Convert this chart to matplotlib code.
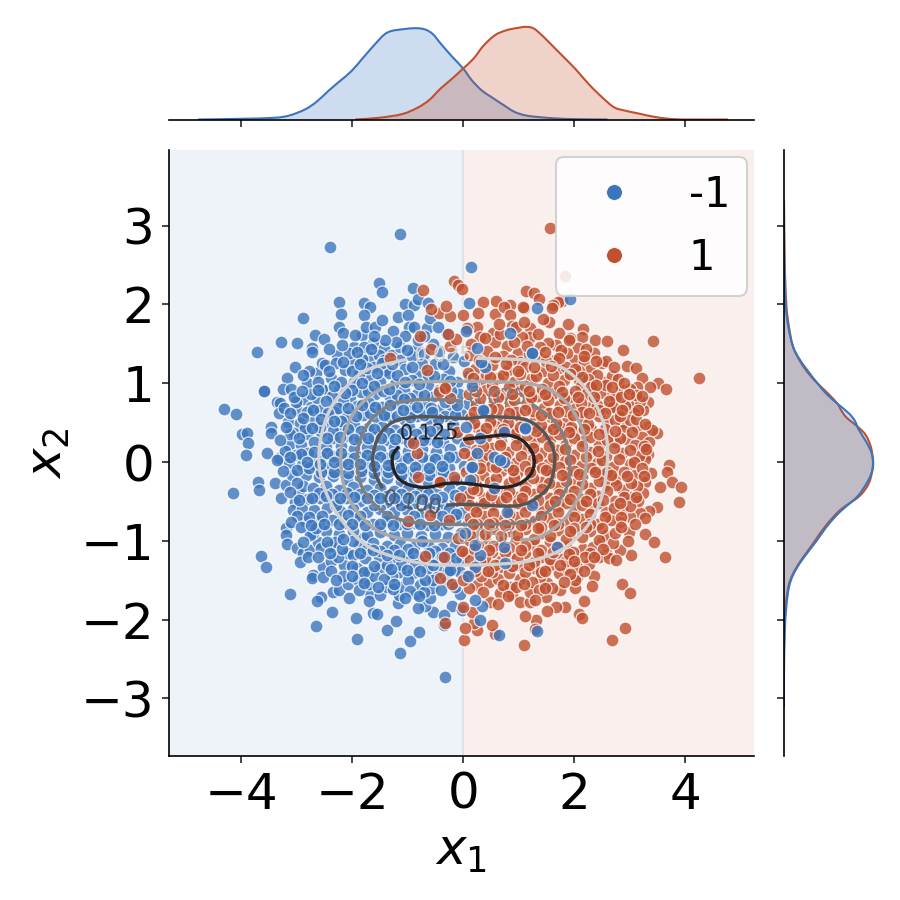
#!/usr/bin/env python
"""
Joint plot of two classes with marginal densities and density contours.
"""
import numpy as np
import matplotlib
matplotlib.use("Agg")
import matplotlib.pyplot as plt
from matplotlib.lines import Line2D
from matplotlib.path import Path
from matplotlib.patches import PathPatch

BLUE = "#3b75bd"
RED = "#c0502f"

blue_outer = [
    (-1.135, 2.898), (-2.408, 2.724), (-1.508, 2.272), (-1.459, 2.157), (-2.246, 2.030), (-.895, 2.212),
    (-2.198, 1.874), (-2.877, 1.832), (-1.790, 2.022), (-1.676, 1.971), (-1.790, 1.870), (-2.234, 1.717),
    (-2.168, 1.633), (-2.661, 1.616), (-2.511, 1.561), (-3.279, 1.519), (-2.985, 1.514), (-3.706, 1.400),
    (-2.715, 1.442), (-2.727, 1.400), (-3.021, 1.201), (-3.165, 1.070), (-3.580, .897), (-3.580, .897),
    (-4.306, .673), (-4.084, .605), (-3.976, .351), (-3.886, .364), (-3.249, .922), (-3.105, .931),
    (-2.817, .998), (-2.877, .795), (-3.357, .766), (-3.309, .745), (-3.321, .618), (-3.459, .448),
    (-3.459, .364), (-3.147, .512), (-2.985, .660), (-2.655, 1.125), (-2.775, 1.159), (-2.547, 1.261),
    (-2.276, 1.358), (-2.487, 1.231), (-1.958, 1.464), (-1.820, 1.612), (-1.754, 1.717), (-1.586, 1.717),
    (-1.952, 1.612), (-1.273, 1.667), (-1.183, 1.836), (-1.045, 2.005), (-.877, 1.988), (-.805, 2.073),
    (-.985, 1.865), (-.625, 2.014), (-.967, 1.717), (-.655, 1.696), (-1.616, 1.506), (-1.435, 1.442),
    (-1.285, 1.358), (-1.045, 1.599), (-1.676, 1.337), (-1.976, 1.273), (-2.294, 1.261), (-2.487, .914),
    (-2.745, .702), (-2.246, .914), (-2.036, .829), (-1.706, 1.062), (-1.405, 1.167), (-1.135, 1.464),
    (-.865, 1.421),
    (-3.868, .245), (-3.910, .089), (-3.526, .110), (-3.327, .047), (-3.135, .216), (-3.129, -.017),
    (-3.688, -.250), (-3.682, -.355), (-3.399, -.271), (-4.150, -.389), (-3.189, -.292), (-2.955, -.398),
    (-3.027, -.503), (-3.057, -.609), (-2.847, -.745), (-3.189, -.841), (-3.189, -.926), (-3.165, -1.041),
    (-2.997, -1.096), (-3.646, -1.197), (-3.556, -1.337), (-2.877, -1.159), (-2.757, -1.117), (-2.931, -1.273),
    (-2.517, -1.328), (-2.697, -1.434), (-2.727, -1.476), (-2.517, -1.459), (-3.123, -1.679), (-2.565, -1.709),
    (-2.637, -1.764), (-2.348, -1.654), (-2.240, -1.624), (-2.078, -1.552), (-2.048, -1.730), (-2.366, -1.899),
    (-2.643, -2.081), (-1.928, -1.980), (-1.616, -1.920), (-1.556, -1.924), (-1.910, -2.251), (-1.375, -2.132),
    (-1.219, -2.018), (-.955, -2.276), (-.787, -2.161), (-1.147, -2.428), (-.336, -2.724), (-.342, -2.069),
    (-.210, -1.823), (-.018, -1.878), (-.054, -1.675), (-.535, -1.899), (-.354, -1.942), (-.679, -1.823),
    (-.805, -1.857), (-.595, -1.730), (-.853, -1.675), (-1.183, -1.794), (-1.165, -1.688), (-1.676, -1.667),
    (-1.694, -1.760), (-1.495, -1.688), (-1.886, -1.497), (-1.694, -1.552), (-1.375, -1.582), (-1.135, -1.582),
    (-.775, -1.561), (-.565, -1.603), (-2.156, -1.307), (-2.378, -1.252), (-2.096, -1.159), (-2.607, -1.011),
    (-2.396, -1.066), (-2.697, -.905), (-1.808, -.969), (-1.916, -1.349), (-1.495, -1.349), (-1.135, -1.392),
    (-.895, -1.413),
]
blue_inner = [
    (-1.83, 1.31), (-1.52, 1.36), (-1.14, 1.29), (-.93, 1.34), (-.71, 1.37), (-.44, 1.41), (-.18, 1.33),
    (-2.12, 1.17), (-1.88, 1.12), (-1.61, 1.21), (-1.33, 1.13), (-1.05, 1.18), (-.79, 1.11), (-.51, 1.24), (-.25, 1.16), (.02, 1.28),
    (-2.38, 1.07), (-2.21, 1.02), (-1.97, 1.01), (-1.49, 1.02), (-1.22, .99), (-.93, 1.04), (-.64, .98), (-.37, 1.06), (-.12, 1.02), (.11, 1.09),
    (-2.55, .93), (-2.36, .84), (-1.84, .89), (-1.58, .87), (-1.31, .83), (-1.07, .91), (-.83, .87), (-.57, .82), (-.08, .86), (.08, .74),
    (-2.63, .81), (-2.17, .76), (-1.92, .71), (-1.69, .75), (-1.46, .70), (-1.19, .72), (-.95, .69), (-.69, .73), (-.46, .66), (-.21, .70),
    (-2.81, .63), (-2.58, .66), (-2.33, .63), (-2.09, .58), (-1.81, .60), (-1.56, .56), (-1.33, .59), (-1.06, .55), (-.84, .58), (-.58, .53), (-.33, .58), (-.03, .61),
    (-2.94, .49), (-2.69, .52), (-2.46, .50), (-2.22, .44), (-1.97, .47), (-1.72, .43), (-1.47, .45), (-1.22, .41), (-.98, .44), (-.72, .40), (-.47, .43), (-.19, .47),
    (-3.04, .37), (-2.81, .35), (-2.57, .38), (-2.34, .31), (-2.09, .33), (-1.85, .30), (-1.61, .32), (-1.35, .28), (-1.09, .30), (-.87, .27), (-.61, .29), (-.36, .25), (-.11, .31),
    (-2.93, .22), (-2.69, .25), (-2.47, .19), (-2.21, .20), (-1.97, .17), (-1.74, .19), (-1.49, .15), (-1.24, .18), (-.99, .14), (-.74, .16), (-.49, .13), (-.24, .17), (.03, .21),
    (-3.02, .09), (-2.80, .11), (-2.57, .06), (-2.34, .08), (-2.09, .05), (-1.85, .07), (-1.62, .02), (-1.37, .05), (-1.12, .01), (-.87, .04), (-.62, .02), (-.37, .03), (-.13, .06),
    (-2.91, -.04), (-2.68, -.02), (-2.45, -.07), (-2.21, -.05), (-1.97, -.08), (-1.74, -.06), (-1.49, -.10), (-1.24, -.07), (-1.01, -.12), (-.75, -.09), (-.50, -.11), (-.25, -.08), (.01, -.05),
    (-3.08, -.17), (-2.83, -.16), (-2.59, -.19), (-2.35, -.18), (-2.10, -.21), (-1.86, -.19), (-1.61, -.23), (-1.37, -.20), (-1.12, -.24), (-.89, -.22), (-.63, -.25), (-.38, -.21), (-.13, -.23),
    (-2.88, -.31), (-2.71, -.33), (-2.47, -.31), (-2.23, -.35), (-1.98, -.32), (-1.74, -.36), (-1.49, -.33), (-1.25, -.37), (-1.00, -.34), (-.76, -.38), (-.51, -.36), (-.26, -.33), (-.02, -.37),
    (-2.79, -.47), (-2.58, -.45), (-2.35, -.49), (-2.11, -.46), (-1.86, -.50), (-1.62, -.47), (-1.37, -.51), (-1.12, -.48), (-.88, -.52), (-.63, -.49), (-.39, -.53), (-.14, -.50), (.07, -.47),
    (-2.91, -.59), (-2.69, -.61), (-2.46, -.58), (-2.22, -.62), (-1.98, -.59), (-1.73, -.63), (-1.49, -.60), (-1.24, -.64), (-1.01, -.61), (-.75, -.65), (-.51, -.63), (-.26, -.60), (-.04, -.65),
    (-2.60, -.75), (-2.36, -.73), (-2.12, -.77), (-1.87, -.74), (-1.62, -.78), (-1.38, -.75), (-1.13, -.79), (-.89, -.77), (-.64, -.80), (-.39, -.78), (-.15, -.74), (.09, -.79),
    (-2.76, -.93), (-2.47, -.88), (-2.24, -.91), (-1.99, -.88), (-1.74, -.92), (-1.50, -.89), (-1.25, -.93), (-1.01, -.90), (-.76, -.94), (-.51, -.91), (-.27, -.95), (-.03, -.90),
    (-2.57, -1.09), (-2.31, -1.02), (-1.88, -1.05), (-1.62, -1.03), (-1.37, -1.07), (-1.13, -1.04), (-.88, -1.08), (-.63, -1.05), (-.39, -1.09), (-.14, -1.06),
    (-2.25, -1.21), (-1.99, -1.18), (-1.76, -1.22), (-1.52, -1.19), (-1.25, -1.23), (-1.00, -1.20), (-.76, -1.24), (-.51, -1.21), (-.27, -1.25), (-.02, -1.22),
    (-1.71, -1.39), (-1.61, -1.45), (-1.29, -1.44), (-.99, -1.50), (-.66, -1.36), (-.42, -1.39), (-.16, -1.36),
    (-1.27, -1.61), (-.96, -1.63), (-.70, -1.65), (-.47, -1.46),
]
blue_fill = [
    (-2.05, 1.38), (-1.78, 1.46), (-1.42, 1.30), (-1.21, 1.52), (-.82, 1.55), (-.55, 1.50), (-.30, 1.62), (-.60, 1.83), (-.75, 1.25),
    (-2.62, 1.02), (-2.01, 1.15), (-1.74, 1.19), (-1.46, 1.26), (-1.20, 1.10), (-.92, 1.20), (-.63, 1.11), (-.36, 1.25),
    (-2.75, .87), (-2.47, .77), (-2.26, .69), (-2.00, .92), (-1.72, .90), (-1.44, .90), (-1.19, .85), (-.95, .81), (-.70, .85), (-.44, .92), (-.22, .90),
    (-3.02, .76), (-2.70, .66), (-2.44, .62), (-2.20, .52), (-1.93, .58), (-1.68, .62), (-1.43, .60), (-1.19, .58), (-.96, .57), (-.71, .60), (-.45, .55), (-.15, .60),
    (-3.12, .36), (-2.85, .43), (-2.58, .44), (-2.34, .40), (-2.08, .42), (-1.84, .39), (-1.60, .42), (-1.34, .37), (-1.10, .37), (-.85, .35), (-.60, .39), (-.34, .36),
    (-3.21, .14), (-2.92, .10), (-2.69, .13), (-2.45, .12), (-2.20, .11), (-1.97, .05), (-1.73, .09), (-1.49, .06), (-1.25, .10), (-1.00, .05), (-.75, .07), (-.50, .04), (-.25, .07),
    (-3.24, -.11), (-3.00, -.10), (-2.78, -.08), (-2.56, -.12), (-2.32, -.12), (-2.08, -.14), (-1.84, -.11), (-1.60, -.14), (-1.35, -.13), (-1.12, -.16), (-.87, -.14), (-.62, -.17), (-.37, -.13),
    (-3.00, -.27), (-2.60, -.39), (-2.36, -.41), (-2.10, -.39), (-1.85, -.40), (-1.60, -.42), (-1.37, -.43), (-1.12, -.41), (-.87, -.43), (-.63, -.41), (-.38, -.44), (-.14, -.42),
    (-3.00, -.69), (-2.78, -.70), (-2.55, -.68), (-2.30, -.54), (-2.07, -.67), (-1.85, -.69), (-1.60, -.55), (-1.37, -.69), (-1.12, -.55), (-.88, -.69), (-.62, -.57), (-.38, -.69), (-.13, -.66),
    (-2.65, -.84), (-2.88, -1.02), (-2.45, -1.02), (-2.18, -1.10), (-1.98, -1.00), (-1.74, -1.10), (-1.50, -1.13), (-1.25, -1.12), (-1.00, -1.10), (-.75, -1.00), (-.50, -1.13), (-.26, -1.15),
    (-2.38, -1.38), (-2.16, -1.45), (-2.00, -1.32), (-1.78, -1.40), (-1.38, -1.30), (-1.12, -1.30), (-.87, -1.31), (-.55, -1.50), (-.30, -1.50), (-.06, -1.40),
    (-1.42, -1.48), (-1.24, -1.55), (-1.88, -1.62), (-1.53, -1.58), (-.68, -1.50), (-.40, -1.62), (-.15, -1.58),
]
blue_gap = [
    (-2.42, 1.43), (-2.18, 1.48), (-1.92, 1.40), (-1.66, 1.44), (-1.40, 1.55), (-1.02, 1.42), (-.70, 1.60), (-.45, 1.72), (-.88, 1.72), (-1.46, 1.80), (-1.60, 1.60),
    (-2.88, 1.10), (-2.42, 1.16), (-2.17, 1.27), (-1.85, 1.24), (-1.55, 1.13), (-1.29, 1.25), (-1.05, 1.02), (-.80, .99), (-.52, 1.09), (-.24, 1.03),
    (-3.05, .82), (-2.90, .90), (-2.62, .92), (-2.32, .97), (-2.12, .88), (-1.83, 1.00), (-1.60, .97), (-1.34, .93), (-1.07, .80), (-.58, .69), (-.33, .76), (-.12, .72),
    (-3.22, .68), (-3.12, .62), (-2.88, .56), (-2.57, .55), (-2.32, .52), (-2.07, .69), (-1.83, .72), (-1.58, .70), (-1.32, .72), (-1.08, .66), (-.83, .70), (-.57, .63),
    (-3.30, .28), (-3.20, .44), (-2.96, .30), (-2.72, .43), (-2.46, .30), (-2.22, .32), (-1.97, .29), (-1.72, .31), (-1.48, .30), (-1.22, .29), (-.97, .25), (-.72, .28), (-.48, .25),
    (-3.36, .02), (-3.12, .06), (-2.82, .00), (-2.58, -.03), (-2.33, .00), (-2.08, -.02), (-1.85, -.02), (-1.60, -.05), (-1.36, -.04), (-1.12, -.08), (-.86, -.06), (-.62, -.08), (-.38, -.05),
    (-3.28, -.46), (-3.12, -.38), (-2.95, -.48), (-2.72, -.45), (-2.47, -.43), (-2.22, -.46), (-1.97, -.44), (-1.73, -.46), (-1.49, -.45), (-1.24, -.46), (-1.00, -.45), (-.75, -.47), (-.50, -.47),
    (-3.10, -.76), (-2.92, -.82), (-2.75, -.80), (-2.50, -.79), (-2.24, -.79), (-2.00, -.78), (-1.76, -.80), (-1.50, -.78), (-1.26, -.80), (-1.02, -.79), (-.77, -.78), (-.52, -.80), (-.27, -.78),
    (-2.80, -1.20), (-2.62, -1.20), (-2.40, -1.15), (-2.16, -.98), (-1.86, -1.16), (-1.62, -1.12), (-1.38, -1.18), (-1.15, -1.18), (-.90, -1.16), (-.62, -1.15), (-.39, -1.20), (-.13, -1.22),
    (-2.30, -1.50), (-2.00, -1.44), (-1.78, -1.54), (-1.60, -1.32), (-1.30, -1.36), (-1.02, -1.37), (-.78, -1.38), (-.55, -1.31), (-.28, -1.38), (-.80, -1.70), (-1.05, -1.72),
]
blue_strays = [
    (.138, 2.479), (.114, 2.014), (1.339, 1.950), (1.928, 2.064), (1.237, 1.379), (.396, 1.210), (.847, 1.633),
    (.367, .651), (1.117, .415), (.337, -1.823), (.306, -2.005), (.216, -1.751), (.649, -2.195), (1.33, -2.15),
    (.757, -1.286), (.306, -1.180), (.216, -1.328), (.096, -1.447), (.727, -1.074), (1.237, -.546), (.547, -.334),
    (.138, -.059), (.246, .110), (.547, .068), (.727, .004), (1.688, -1.083), (1.249, 1.379), (.727, .385),
    (1.117, .427), (.366, .660), (.156, -.059), (.126, -.228), (.667, .025), (.787, -.630), (-.234, -1.371),
    (.25, 1.45), (.33, 1.27), (.05, 1.66), (.16, .97), (.05, .45), (.3, .3), (.04, -.9), (.22, -1.05),
]
red_outer = [
    (1.568, 2.965), (1.826, 2.365), (1.129, 2.166), (1.279, 2.149), (1.375, 2.069), (1.778, 2.039),
    (1.700, 2.026), (1.616, 1.992), (1.598, 1.950), (1.105, 1.950), (.835, 1.992), (.583, 2.047),
    (.366, 2.035), (.264, 1.895), (.565, 1.874), (.727, 1.971), (.847, 1.865), (1.087, 1.971),
    (1.555, 1.781), (1.447, 1.810), (1.892, 1.751), (1.207, 1.705), (2.168, 1.688), (2.144, 1.591),
    (1.916, 1.578), (1.718, 1.641), (2.378, 1.544), (2.583, 1.536), (3.417, 1.540), (2.877, 1.426),
    (2.366, 1.379), (2.060, 1.442), (1.670, 1.485), (1.520, 1.506), (1.207, 1.591), (1.057, 1.582),
    (.877, 1.726), (.535, 1.633), (.258, 1.717), (.306, 1.582), (.577, 1.527), (.787, 1.476),
    (.979, 1.387), (1.387, 1.464), (1.655, 1.294), (2.018, 1.294), (2.186, 1.286), (2.498, 1.252),
    (2.571, 1.286), (2.949, 1.222), (3.105, 1.197), (3.219, 1.062), (4.258, 1.070), (3.514, 1.003),
    (3.369, .952), (3.658, .926), (3.141, .956), (2.835, .931), (2.559, 1.011), (2.348, .986),
    (2.096, 1.041), (2.637, .842), (3.339, .757), (2.979, .787), (3.069, .715), (3.237, .660),
    (2.793, .651), (2.559, .702), (2.348, .787), (3.339, .448), (3.495, .364), (3.399, .406),
    (3.129, .448), (2.859, .491), (2.589, .491), (2.871, .406), (3.069, .618),
    (3.706, -.038), (3.669, -.131), (3.327, .102), (3.279, .034), (3.387, -.144), (3.760, -.258),
    (3.928, -.313), (3.550, -.321), (3.892, -.512), (3.279, -.250), (3.249, -.389), (3.009, -.448),
    (3.501, -.567), (3.357, -.622), (3.189, -.651), (3.279, -.715), (3.009, -.694), (2.817, -.766),
    (3.279, -.914), (3.447, -1.019), (2.991, -.884), (3.628, -1.201), (3.027, -1.176), (2.829, -1.117),
    (2.571, -1.159), (2.967, -1.003), (2.499, -1.011), (2.168, -1.104), (2.276, -1.294), (2.366, -1.442),
    (2.330, -1.574), (2.859, -1.544), (3.009, -1.658), (2.180, -1.768), (2.048, -1.455), (2.018, -1.603),
    (1.826, -1.836), (1.676, -1.836), (2.096, -1.929), (2.150, -1.984), (2.907, -2.111), (2.679, -2.259),
    (1.508, -1.891), (1.495, -1.709), (1.315, -2.005), (1.297, -2.123), (1.117, -1.950), (1.099, -2.325),
    (.565, -2.183), (.511, -2.069), (.246, -2.132), (.204, -2.047), (.024, -2.259), (.036, -2.111),
    (.156, -1.899), (.487, -1.781), (.667, -1.667), (.877, -1.688), (1.027, -1.781), (1.207, -1.772),
    (1.748, -1.624), (1.508, -1.540), (1.718, -1.413), (2.018, -1.497), (1.387, -1.455), (.847, -1.582),
    (1.207, -1.645), (.246, -1.561), (.457, -1.519), (1.868, -1.349),
]
red_inner = [
    (.12, 1.36), (.43, 1.41), (.72, 1.34), (1.02, 1.27), (1.34, 1.33), (1.87, 1.38), (2.21, 1.43),
    (.21, 1.18), (.52, 1.23), (.81, 1.17), (1.12, 1.21), (1.43, 1.16), (1.73, 1.19), (1.95, 1.12), (2.29, 1.17), (2.69, 1.09),
    (.31, 1.03), (.63, 1.07), (.92, 1.02), (1.22, 1.05), (1.52, 1.00), (1.81, 1.04), (2.13, .97), (2.46, .88), (2.79, 1.05), (3.0, .93),
    (.11, .87), (.42, .91), (.74, .86), (1.03, .90), (1.33, .84), (1.63, .88), (1.92, .82), (2.21, .86), (2.74, .82), (2.92, .71),
    (.24, .72), (.55, .76), (.85, .71), (1.15, .74), (1.45, .69), (1.74, .73), (2.03, .68), (2.31, .70), (2.63, .68), (3.18, .78),
    (.13, .56), (.46, .60), (.71, .55), (1.00, .59), (1.29, .53), (1.58, .57), (1.87, .52), (2.15, .56), (2.44, .59), (2.74, .53), (3.0, .53),
    (.27, .43), (.58, .46), (.88, .41), (1.25, .45), (1.50, .40), (1.75, .44), (2.02, .38), (2.30, .42), (2.60, .36), (2.95, .29), (3.22, .32),
    (.11, .29), (.41, .32), (.69, .27), (.97, .30), (1.27, .25), (1.57, .29), (1.86, .23), (2.14, .27), (2.44, .22), (2.73, .26), (3.09, .22), (3.35, .25),
    (.23, .15), (.52, .18), (.81, .13), (1.11, .16), (1.40, .11), (1.70, .15), (1.99, .09), (2.28, .13), (2.57, .08), (2.87, .12), (3.17, .08),
    (.35, .01), (.63, .04), (.93, -.01), (1.24, .02), (1.53, -.03), (1.83, .01), (2.12, -.05), (2.41, -.01), (2.70, -.06), (3.00, -.02),
    (.05, -.12), (.36, -.16), (.68, -.11), (.97, -.14), (1.27, -.10), (1.56, -.17), (1.86, -.13), (2.15, -.19), (2.44, -.15), (2.74, -.21), (3.10, -.17),
    (.24, -.29), (.48, -.25), (.83, -.27), (1.11, -.30), (1.41, -.25), (1.71, -.32), (2.00, -.27), (2.29, -.33), (2.58, -.29), (2.88, -.35), (3.14, -.31),
    (.10, -.42), (.38, -.45), (.66, -.41), (.96, -.44), (1.27, -.40), (1.56, -.46), (1.85, -.41), (2.14, -.47), (2.43, -.43), (2.73, -.49),
    (.24, -.57), (.53, -.55), (.83, -.59), (1.11, -.55), (1.41, -.61), (1.70, -.56), (1.99, -.62), (2.28, -.58), (2.58, -.64), (2.87, -.60),
    (.12, -.71), (.38, -.69), (.68, -.73), (.97, -.70), (1.27, -.75), (1.56, -.71), (1.85, -.76), (2.14, -.72), (2.43, -.78), (2.66, -.74),
    (.26, -.86), (.53, -.84), (.83, -.88), (1.12, -.85), (1.41, -.90), (1.70, -.86), (1.99, -.91), (2.28, -.87), (2.58, -.93),
    (.13, -1.00), (.40, -.98), (.68, -1.02), (.97, -1.00), (1.27, -1.05), (1.56, -1.01), (1.85, -1.06), (2.34, -1.08), (2.70, -1.03),
    (.04, -1.15), (.52, -1.14), (.83, -1.18), (1.12, -1.15), (1.41, -1.20), (1.70, -1.16), (1.98, -1.22), (2.44, -1.20),
    (.40, -1.31), (.68, -1.33), (.97, -1.30), (1.27, -1.35), (1.56, -1.31), (2.05, -1.33),
    (.11, -1.60), (.32, -1.44), (.62, -1.49), (1.02, -1.48), (1.24, -1.52), (1.60, -1.60),
]
red_fill = [
    (.28, 1.30), (.58, 1.33), (.87, 1.29), (1.18, 1.37), (1.50, 1.28), (1.76, 1.42), (2.08, 1.15), (2.42, 1.10), (1.90, 1.55), (1.35, 1.62), (.95, 1.72),
    (.08, 1.13), (.42, 1.12), (.72, 1.11), (1.03, 1.12), (1.32, 1.09), (1.61, 1.11), (1.85, 1.20), (2.25, 1.05), (2.58, .98),
    (.20, .96), (.52, .98), (.83, .95), (1.12, .97), (1.42, .93), (1.72, .97), (2.02, .90), (2.31, .95), (2.85, .82), (3.12, .85),
    (.30, .81), (.62, .83), (.92, .79), (1.22, .83), (1.53, .79), (1.82, .81), (2.12, .75), (2.42, .72), (2.70, .70),
    (.34, .65), (.63, .67), (.95, .64), (1.25, .65), (1.55, .62), (1.85, .65), (2.15, .63), (2.45, .66), (2.82, .58), (3.12, .55),
    (.20, .49), (.48, .51), (.80, .50), (1.10, .49), (1.40, .47), (1.67, .49), (1.95, .45), (2.25, .48), (2.55, .42), (2.83, .30),
    (.33, .36), (.65, .37), (.96, .37), (1.15, .34), (1.42, .32), (1.72, .36), (2.00, .31), (2.29, .32), (2.60, .28), (3.25, .20),
    (.15, .08), (.44, .09), (.75, .07), (1.04, .08), (1.33, .05), (1.62, .07), (1.92, .03), (2.21, .06), (2.50, .02), (2.80, .04), (3.08, .00),
    (.20, -.06), (.50, -.05), (.80, -.05), (1.12, -.05), (1.42, -.08), (1.72, -.06), (2.00, -.11), (2.30, -.08), (2.60, -.12), (2.90, -.12), (3.22, -.08),
    (.18, -.22), (.60, -.20), (.92, -.20), (1.25, -.20), (1.55, -.26), (1.85, -.24), (2.15, -.28), (2.45, -.24), (2.75, -.29), (3.02, -.26),
    (.25, -.36), (.55, -.36), (.82, -.37), (1.12, -.37), (1.42, -.34), (1.72, -.40), (2.00, -.37), (2.29, -.40), (2.60, -.37), (2.90, -.44), (3.15, -.50),
    (.10, -.54), (.38, -.52), (.69, -.50), (.98, -.52), (1.26, -.52), (1.56, -.54), (1.85, -.52), (2.14, -.55), (2.43, -.52), (2.72, -.58), (3.00, -.56),
    (.24, -.64), (.53, -.65), (.82, -.66), (1.11, -.63), (1.41, -.68), (1.70, -.64), (1.99, -.70), (2.28, -.66), (2.56, -.70), (2.85, -.70),
    (.25, -.79), (.53, -.77), (.83, -.79), (1.12, -.78), (1.41, -.82), (1.70, -.78), (1.99, -.84), (2.28, -.79), (2.74, -.90),
    (.13, -.92), (.40, -.91), (.68, -.94), (.97, -.92), (1.27, -.97), (1.56, -.94), (1.85, -.98), (2.14, -.95), (2.44, -.99),
    (.26, -1.07), (.53, -1.06), (.83, -1.09), (1.12, -1.07), (1.41, -1.12), (1.70, -1.08), (1.98, -1.14), (2.28, -1.15), (2.62, -1.22),
    (.12, -1.24), (.40, -1.22), (.68, -1.25), (.97, -1.22), (1.27, -1.27), (1.56, -1.23), (1.85, -1.26), (2.18, -1.38),
    (.22, -1.38), (.52, -1.40), (.82, -1.41), (1.12, -1.39), (1.41, -1.40), (1.92, -1.42), (.05, -1.45), (.95, -1.58), (1.37, -1.62), (.35, -1.65), (.62, -1.80),
]
red_gap = [
    (.15, 1.50), (.40, 1.57), (.66, 1.62), (.92, 1.52), (1.15, 1.47), (1.48, 1.40), (1.72, 1.32), (2.02, 1.18), (2.18, 1.35), (2.40, 1.28), (2.72, 1.20), (.65, 1.75), (1.10, 1.78),
    (.18, 1.07), (.48, 1.08), (.78, 1.24), (.98, 1.15), (1.28, 1.20), (1.58, 1.22), (1.92, 1.12), (2.15, 1.08), (2.40, .98), (2.68, .95), (2.90, 1.00),
    (.24, .90), (.55, .90), (.88, .87), (1.18, .90), (1.48, .86), (1.78, .89), (2.07, .82), (2.36, .83), (2.62, .78), (2.98, .87), (3.22, .84),
    (.19, .63), (.51, .67), (.82, .62), (1.12, .66), (1.40, .60), (1.70, .64), (1.98, .60), (2.27, .62), (2.56, .62), (2.86, .66), (3.15, .66),
    (.42, .43), (.72, .42), (1.02, .44), (1.32, .39), (1.62, .42), (1.90, .38), (2.18, .42), (2.45, .35), (2.74, .40), (3.05, .38), (3.28, .48),
    (.36, .20), (.66, .22), (.96, .22), (1.26, .18), (1.55, .21), (1.84, .16), (2.14, .20), (2.43, .14), (2.72, .18), (3.00, .15), (3.30, .16),
    (.30, -.08), (.60, -.06), (.90, -.10), (1.20, -.12), (1.50, -.10), (1.78, -.16), (2.08, -.15), (2.37, -.12), (2.66, -.17), (2.96, -.18), (3.25, -.18),
    (.18, -.34), (.50, -.42), (.78, -.44), (1.06, -.46), (1.35, -.48), (1.65, -.50), (1.93, -.47), (2.22, -.50), (2.52, -.48), (2.82, -.52), (3.12, -.44),
    (.18, -.78), (.46, -.78), (.76, -.80), (1.05, -.80), (1.35, -.84), (1.63, -.80), (1.93, -.88), (2.21, -.82), (2.50, -.84), (2.85, -.82), (3.10, -.78),
    (.20, -1.10), (.47, -1.12), (.76, -1.14), (1.05, -1.12), (1.34, -1.16), (1.62, -1.14), (1.90, -1.17), (2.20, -1.20), (2.52, -1.10), (2.76, -1.24),
    (.30, -1.26), (.58, -1.30), (.88, -1.32), (1.18, -1.30), (1.48, -1.38), (1.74, -1.30), (2.00, -1.25), (2.35, -1.20), (.72, -1.56), (1.10, -1.55), (1.48, -1.60), (1.82, -1.52), (.45, -1.38), (.80, -1.70), (1.30, -1.75),
]
red_strays = [
    (-.721, 2.187), (-.174, 2.297), (-.102, 2.246), (-.024, 2.195), (-.444, 1.887), (-.234, 1.857),
    (-.306, 1.980), (-.583, 1.937), (-.775, 1.603), (-.583, 1.434), (-.246, 1.476), (-.126, 1.557),
    (-.276, 1.620), (.0, 1.865), (.066, 1.696), (-.354, .935), (-.234, .808), (-.444, .893),
    (-.985, -.749), (-.324, -2.039), (-.006, -1.836), (-.685, -1.193), (-.354, -1.209), (-.414, -1.476),
    (-.204, -1.548), (.006, -1.497), (-.835, .110), (-.895, .245), (-.444, -.250), (-.174, -.186),
    (-.264, -.736), (-.595, -.672), (-.324, .935), (-.805, -.186), (-1.315, 1.316), (-.655, 1.168),
    (-.414, -.250), (.01, .12), (-.12, .38), (-.05, -.46), (-.1, -.96), (-.02, -1.13),
]

top_blue_x = [-4.776, -4.042, -3.413, -3.133, -2.853, -2.643, -2.434, -2.224, -2.014, -1.804, -1.594, -1.420,
              -1.280, -1.070, -.860, -.685, -.545, -.406, -.196, 0, .154, .329, .503, .713, .923, 1.133, 1.378,
              1.692, 2.042, 2.601]
top_blue_d = [0, .0014, .0036, .0087, .0217, .0384, .0616, .0833, .1051, .1341, .1630, .1848, .1928, .1964,
              .1986, .1957, .1855, .1652, .1362, .1109, .0855, .0638, .0493, .0326, .0167, .0087, .0051, .0022,
              .0007, 0]
top_red_x = [-1.944, -1.524, -1.105, -.825, -.615, -.406, -.196, 0, .189, .364, .573, .783, .993, 1.133, 1.273,
             1.448, 1.657, 1.867, 2.042, 2.252, 2.462, 2.706, 2.881, 3.161, 3.441, 3.720, 4.0, 4.769]
top_red_d = [0, .0036, .0116, .0254, .0420, .0674, .0891, .1109, .1326, .1601, .1833, .1942, .1993, .2014,
             .1978, .1797, .1543, .1290, .1072, .0783, .0529, .0275, .0203, .0130, .0058, .0014, 0, 0]

side_blue_y = [3.265, 2.565, 2.0, 1.715, 1.465, 1.315, 1.165, 1.0, .865, .74, .615, .515, .415, .265, .115,
               -.035, -.16, -.285, -.435, -.585, -.685, -.835, -.985, -1.135, -1.285, -1.435, -1.585, -1.835,
               -2.185, -2.635, -3.11]
side_blue_d = [0, .0007, .0037, .0097, .0202, .0337, .0524, .0749, .0951, .1199, .1461, .1596, .1670, .1835,
               .1963, .2, .1948, .1835, .1648, .1348, .1161, .0936, .0749, .0547, .0352, .0202, .0112, .0052,
               .0015, 0, 0]
side_red_y = [3.325, 2.565, 2.0, 1.715, 1.465, 1.265, 1.115, 1.0, .865, .74, .665, .565, .44, .34, .19, .015,
              -.135, -.285, -.435, -.585, -.685, -.835, -.985, -1.135, -1.285, -1.435, -1.585, -1.835, -2.185,
              -2.635]
side_red_d = [0, .0015, .0052, .0112, .0202, .0375, .0562, .0749, .0996, .1199, .1273, .1401, .1670, .1835,
              .1948, .1993, .1970, .1888, .1685, .1311, .1124, .0899, .0712, .0524, .0337, .0187, .0097, .0037,
              .0007, 0]

contour_125 = [(0, .288), (.426, .321), (.787, .343), (1.057, .279), (1.237, .131), (1.279, -.017), (1.207, -.165),
               (.997, -.279), (.727, -.321), (.426, -.305), (.066, -.271), (-.294, -.271), (-.655, -.321),
               (-.955, -.292), (-1.165, -.207), (-1.267, -.059), (-1.267, .089), (-1.159, .195)]
contour_100 = [(-.306, -.546), (.066, -.537), (.547, -.554), (.967, -.554), (1.267, -.482), (1.538, -.313),
               (1.640, -.059), (1.628, .152), (1.447, .385), (1.147, .533), (.787, .567), (.426, .575), (.066, .554),
               (-.354, .567), (-.775, .575), (-1.135, .541), (-1.345, .470), (-1.526, .321), (-1.628, .068),
               (-1.586, -.144), (-1.453, -.334)]
contour_075 = [(1.237, .736), (1.628, .533), (1.838, .279), (1.916, -.017), (1.868, -.313), (1.628, -.567),
               (1.267, -.736), (.907, -.778), (.426, -.787), (-.054, -.791), (-.715, -.778), (-1.195, -.715),
               (-1.556, -.567), (-1.826, -.313), (-1.904, -.059), (-1.886, .195), (-1.706, .491), (-1.375, .702),
               (-1.015, .778), (-.535, .795), (-.006, .774)]
contour_050 = [(1.027, -.990), (1.387, -.948), (1.808, -.736), (2.108, -.398), (2.216, -.017), (2.168, .364),
               (1.928, .702), (1.568, .914), (1.147, .998), (.547, 1.019), (-.054, 1.024), (-.655, 1.019),
               (-1.195, .998), (-1.616, .871), (-1.976, .618), (-2.168, .279), (-2.204, -.017), (-2.126, -.355),
               (-1.886, -.651), (-1.556, -.863), (-1.135, -.969), (-.655, -1.003), (-.204, -.990)]
contour_025 = [(.246, 1.316), (1.147, 1.294), (1.748, 1.210), (2.228, .914), (2.529, .491), (2.601, .068),
               (2.498, -.440), (2.228, -.821), (1.808, -1.096), (1.267, -1.244), (.667, -1.294), (-.054, -1.307),
               (-.655, -1.294), (-1.255, -1.201), (-1.796, -1.032), (-2.276, -.651), (-2.547, -.228), (-2.595, .152),
               (-2.456, .575), (-2.156, .914), (-1.736, 1.168), (-1.015, 1.303)]
contour_lines = [contour_025, contour_050, contour_075, contour_100, contour_125]
contour_colors = ["#d2d2d2", "#a9a9a9", "#808080", "#555555", "#222222"]
contour_labels = ["0.025", "0.050", "0.075", "0.100", "0.125"]
label_spots = [(-.354, 1.345, 0), (.396, -.969, 0), (.619, .808, 0), (-.925, -.525, -11), (-.607, .364, 1)]

x_ticks = [-4, -2, 0, 2, 4]
y_ticks = [-3, -2, -1, 0, 1, 2, 3]


def smooth_path(points):
    """
    Bezier path that passes through every one of the given points.
    """
    pts = np.array(points, dtype=float)
    verts = [pts[0]]
    codes = [Path.MOVETO]
    for i in range(len(pts) - 1):
        before = pts[max(i - 1, 0)]
        after = pts[min(i + 2, len(pts) - 1)]
        verts += [pts[i] + (pts[i + 1] - before) / 6, pts[i + 1] - (after - pts[i]) / 6, pts[i + 1]]
        codes += [Path.CURVE4, Path.CURVE4, Path.CURVE4]
    return Path(verts, codes)


def draw_points(ax, points, color, zorder):
    """
    Scatter a list of (x, y) pairs with white edges.
    """
    pts = np.array(points)
    ax.scatter(pts[:, 0], pts[:, 1], s=38, color=color, alpha=0.8, edgecolor="white", linewidth=0.6, zorder=zorder)


def draw_density(ax, xs, ys, color):
    """
    Filled density curve, the ends of which lie on the baseline.
    """
    path = smooth_path(list(zip(xs, ys)))
    ax.add_patch(PathPatch(path, facecolor=color, alpha=0.25, lw=0))
    ax.add_patch(PathPatch(path, fill=False, edgecolor=color, lw=1))


fig = plt.figure(figsize=(6, 6), dpi=150)
ax = fig.add_axes([169 / 900, 1 - 756 / 900, 585 / 900, 606 / 900])
ax_top = fig.add_axes([169 / 900, 1 - 119.5 / 900, 585 / 900, 115 / 900], sharex=ax)
ax_side = fig.add_axes([784 / 900, 1 - 756 / 900, 116 / 900, 606 / 900], sharey=ax)

ax.axvspan(-5.30, 0, color=BLUE, alpha=0.085, lw=0, zorder=0)
ax.axvspan(0, 5.24, color=RED, alpha=0.085, lw=0, zorder=0)
ax.axvline(0, color="#dfe3e8", lw=1, zorder=1)

draw_points(ax, blue_outer, BLUE, 2)
draw_points(ax, blue_inner, BLUE, 2)
draw_points(ax, blue_fill, BLUE, 2)
draw_points(ax, blue_gap, BLUE, 2)
draw_points(ax, red_outer, RED, 3)
draw_points(ax, red_inner, RED, 3)
draw_points(ax, red_fill, RED, 3)
draw_points(ax, red_gap, RED, 3)
draw_points(ax, red_strays, RED, 3)
draw_points(ax, blue_strays, BLUE, 3.5)

for line, color in zip(contour_lines, contour_colors):
    ax.add_patch(PathPatch(smooth_path(line), fill=False, edgecolor=color, lw=1.6, zorder=4, capstyle="butt"))
for spot, text, color in zip(label_spots, contour_labels, contour_colors):
    ax.text(spot[0], spot[1], text, color=color, fontsize=10, rotation=spot[2], ha="center", va="center", zorder=4)

ax.set_xlim(-5.30, 5.24)
ax.set_ylim(-3.73, 3.96)
ax.set_xticks(x_ticks)
ax.set_yticks(y_ticks)
ax.tick_params(labelsize=24, colors="#262626", labelcolor="black")
ax.set_xlabel("$x_1$", fontsize=24, labelpad=4)
ax.set_ylabel("$x_2$", fontsize=24, labelpad=4)
ax.spines[["top", "right"]].set_visible(False)

handles = [Line2D([], [], ls="", marker="o", ms=7.5, color=BLUE, mec="white", mew=0.3),
           Line2D([], [], ls="", marker="o", ms=7.5, color=RED, mec="white", mew=0.3)]
legend = ax.legend(handles, ["-1", "1"], loc="upper right", fontsize=20, framealpha=0.85, borderaxespad=0.168,
                   labelspacing=0.51, handletextpad=0.8, borderpad=0.4)
legend.set_zorder(6)

draw_density(ax_top, top_blue_x, top_blue_d, BLUE)
draw_density(ax_top, top_red_x, top_red_d, RED)
ax_top.set_ylim(0, 0.25)
ax_top.spines[["top", "right", "left"]].set_visible(False)
ax_top.tick_params(left=False, labelleft=False, labelbottom=False, color="#262626")

draw_density(ax_side, side_red_d, side_red_y, RED)
draw_density(ax_side, side_blue_d, side_blue_y, BLUE)
ax_side.set_xlim(0, 0.26)
ax_side.spines[["top", "right", "bottom"]].set_visible(False)
ax_side.tick_params(bottom=False, labelbottom=False, labelleft=False, color="#262626")

fig.savefig("out.png", dpi=150)
